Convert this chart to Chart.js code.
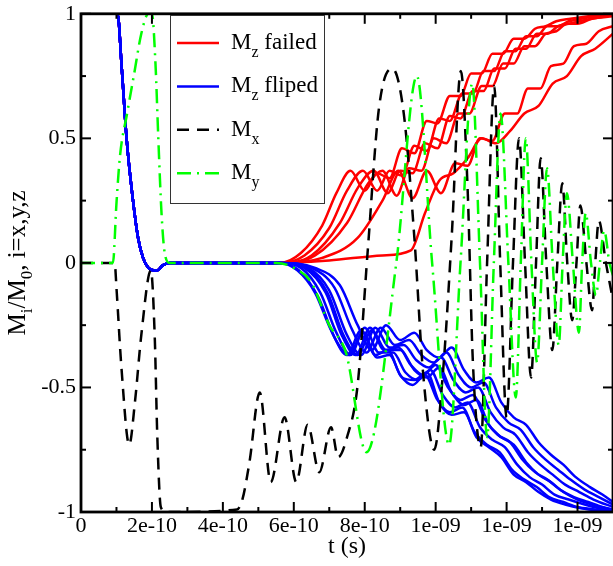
<!DOCTYPE html>
<html><head><meta charset="utf-8">
<script src="https://cdn.jsdelivr.net/npm/chart.js@4/dist/chart.umd.min.js"></script>
<style>html,body{margin:0;padding:0;background:#fff;}canvas{display:block;}</style>
</head><body>
<canvas id="c" width="613" height="566"></canvas>
<script>
// time values are in units of 1e-10 s
const T_UNIT = 1e-10;
const xTickValues = [0, 2, 4, 6, 8, 10, 12, 14];
const yTickValues = [-1, -0.5, 0, 0.5, 1];

// shared initial M_z segment
const mzInitial = [[0,1],[1.03,1],[1.15,0.78],[1.285,0.5],[1.45,0.27],[1.61,0.1],[1.75,0.02],[1.9,-0.02],[2.05,-0.03],[2.15,-0.03],[2.3,-0.01],[2.5,0],[4.5,0]];

const mzFailed1 = [[5.6,0],[6.2,0.04],[6.8,0.15],[7.2,0.28],[7.6,0.37],[8.0,0.29],[8.35,0.36],[8.7,0.34],[9.05,0.46],[9.4,0.44],[9.75,0.57],[10.05,0.56],[10.4,0.67],[10.7,0.67],[11.0,0.76],[11.3,0.76],[11.6,0.84],[11.9,0.84],[12.2,0.9],[12.5,0.9],[12.8,0.94],[13.1,0.95],[13.4,0.97],[13.8,0.98],[14.3,0.99],[15,1.0]];
const mzFailed2 = [[5.6,0],[6.3,0.03],[7.0,0.14],[7.5,0.29],[7.95,0.37],[8.35,0.29],[8.7,0.37],[9.05,0.35],[9.4,0.47],[9.75,0.45],[10.1,0.58],[10.4,0.57],[10.75,0.68],[11.05,0.68],[11.35,0.77],[11.65,0.77],[11.95,0.85],[12.25,0.85],[12.55,0.91],[12.85,0.91],[13.15,0.95],[13.45,0.95],[13.75,0.97],[14.1,0.98],[14.5,0.99],[15,1.0]];
const mzFailed3 = [[5.6,0],[6.5,0.03],[7.3,0.16],[7.8,0.3],[8.25,0.37],[8.65,0.28],[9.0,0.37],[9.35,0.36],[9.7,0.48],[10.05,0.46],[10.4,0.59],[10.7,0.58],[11.05,0.69],[11.35,0.69],[11.65,0.78],[11.95,0.78],[12.25,0.86],[12.55,0.86],[12.85,0.92],[13.15,0.92],[13.45,0.95],[13.75,0.96],[14.05,0.97],[14.4,0.98],[15,0.995]];
const mzFailed4 = [[5.6,0],[6.6,0.03],[7.5,0.16],[8.1,0.32],[8.5,0.37],[8.9,0.27],[9.25,0.38],[9.6,0.37],[9.95,0.5],[10.3,0.48],[10.65,0.6],[10.95,0.6],[11.3,0.71],[11.6,0.71],[11.9,0.8],[12.2,0.8],[12.5,0.87],[12.8,0.87],[13.1,0.92],[13.4,0.93],[13.7,0.96],[14.0,0.96],[14.4,0.98],[15,0.99]];
const mzFailed5 = [[5.6,0],[6.8,0.02],[7.8,0.1],[8.5,0.25],[8.95,0.37],[9.35,0.26],[9.75,0.37],[10.15,0.28],[10.55,0.4],[10.9,0.39],[11.25,0.5],[11.6,0.49],[11.95,0.6],[12.3,0.6],[12.6,0.7],[12.95,0.7],[13.25,0.79],[13.6,0.8],[13.9,0.87],[14.25,0.88],[14.6,0.93],[15,0.95]];
const mzFailed6 = [[5.6,0],[7.0,0.01],[8.5,0.03],[9.3,0.05],[9.7,0.2],[10.1,0.33],[10.5,0.36],[10.9,0.42],[11.3,0.5],[11.7,0.48],[12.1,0.53],[12.5,0.6],[12.9,0.63],[13.3,0.72],[13.7,0.75],[14.1,0.83],[14.5,0.86],[15,0.92]];

const mzFlip1 = [[5.6,0],[6.1,-0.03],[6.6,-0.12],[7.05,-0.27],[7.5,-0.37],[7.9,-0.27],[8.3,-0.37],[8.65,-0.35],[9.0,-0.45],[9.35,-0.49],[9.7,-0.45],[10.05,-0.55],[10.4,-0.6],[10.75,-0.58],[11.1,-0.68],[11.45,-0.73],[11.8,-0.76],[12.15,-0.83],[12.5,-0.87],[12.85,-0.9],[13.2,-0.94],[13.6,-0.96],[14.0,-0.98],[14.5,-0.99],[15,-1.0]];
const mzFlip2 = [[5.6,0],[6.2,-0.02],[6.75,-0.12],[7.2,-0.28],[7.6,-0.37],[8.0,-0.26],[8.4,-0.36],[8.8,-0.36],[9.15,-0.44],[9.5,-0.47],[9.85,-0.43],[10.2,-0.53],[10.55,-0.58],[10.9,-0.56],[11.25,-0.66],[11.6,-0.71],[11.95,-0.74],[12.3,-0.81],[12.65,-0.86],[13.0,-0.89],[13.35,-0.93],[13.75,-0.95],[14.2,-0.97],[14.6,-0.985],[15,-0.995]];
const mzFlip3 = [[5.6,0],[6.3,-0.02],[6.9,-0.12],[7.35,-0.29],[7.75,-0.37],[8.15,-0.26],[8.55,-0.35],[8.95,-0.34],[9.3,-0.41],[9.65,-0.45],[10.0,-0.41],[10.35,-0.5],[10.7,-0.55],[11.05,-0.53],[11.4,-0.63],[11.75,-0.69],[12.1,-0.72],[12.45,-0.79],[12.8,-0.84],[13.15,-0.87],[13.5,-0.91],[13.9,-0.94],[14.3,-0.96],[14.7,-0.98],[15,-0.99]];
const mzFlip4 = [[5.6,0],[6.4,-0.02],[7.0,-0.11],[7.5,-0.29],[7.9,-0.37],[8.3,-0.26],[8.7,-0.34],[9.1,-0.33],[9.45,-0.39],[9.8,-0.42],[10.15,-0.38],[10.5,-0.47],[10.85,-0.52],[11.2,-0.5],[11.55,-0.6],[11.9,-0.66],[12.25,-0.69],[12.6,-0.76],[12.95,-0.81],[13.3,-0.85],[13.65,-0.89],[14.05,-0.92],[14.45,-0.95],[15,-0.98]];
const mzFlip5 = [[5.6,0],[6.5,-0.02],[7.15,-0.1],[7.65,-0.27],[8.05,-0.36],[8.45,-0.26],[8.85,-0.33],[9.25,-0.31],[9.6,-0.37],[9.95,-0.4],[10.3,-0.36],[10.65,-0.45],[11.0,-0.5],[11.35,-0.48],[11.7,-0.58],[12.05,-0.64],[12.4,-0.67],[12.75,-0.74],[13.1,-0.79],[13.45,-0.83],[13.8,-0.87],[14.2,-0.91],[14.6,-0.94],[15,-0.97]];
const mzFlip6 = [[5.6,0],[6.6,-0.02],[7.3,-0.09],[7.8,-0.25],[8.2,-0.35],[8.6,-0.25],[9.0,-0.31],[9.4,-0.28],[9.75,-0.35],[10.1,-0.38],[10.45,-0.34],[10.8,-0.43],[11.15,-0.48],[11.5,-0.46],[11.85,-0.56],[12.2,-0.62],[12.55,-0.65],[12.9,-0.72],[13.25,-0.77],[13.6,-0.81],[13.95,-0.86],[14.35,-0.9],[14.7,-0.93],[15,-0.96]];
const mzFlip7 = [[5.6,0],[6.15,-0.03],[6.7,-0.14],[7.15,-0.3],[7.55,-0.37],[7.95,-0.28],[8.35,-0.38],[8.7,-0.37],[9.05,-0.46],[9.4,-0.47],[9.75,-0.44],[10.1,-0.56],[10.45,-0.61],[10.8,-0.6],[11.15,-0.7],[11.5,-0.74],[11.85,-0.78],[12.2,-0.85],[12.55,-0.88],[12.9,-0.92],[13.25,-0.95],[13.65,-0.97],[14.1,-0.985],[14.6,-0.995],[15,-1.0]];
const mzFlip8 = [[5.6,0],[6.35,-0.02],[6.95,-0.12],[7.4,-0.29],[7.8,-0.37],[8.2,-0.27],[8.6,-0.35],[9.0,-0.35],[9.4,-0.43],[9.75,-0.46],[10.1,-0.42],[10.45,-0.52],[10.8,-0.57],[11.15,-0.55],[11.5,-0.65],[11.85,-0.7],[12.2,-0.73],[12.55,-0.8],[12.9,-0.85],[13.25,-0.88],[13.6,-0.92],[14.0,-0.95],[14.4,-0.97],[14.8,-0.985],[15,-0.99]];

const mx = [[0,0],[0.95,0],[1.0,-0.1],[1.14,-0.42],[1.36,-0.73],[1.52,-0.56],[1.7,-0.29],[1.97,-0.03],[2.08,-0.3],[2.15,-0.69],[2.25,-0.98],[2.4,-1.0],[4.4,-0.99],[4.55,-0.95],[4.75,-0.8],[5.04,-0.52],[5.35,-0.88],[5.74,-0.62],[6.07,-0.88],[6.39,-0.65],[6.72,-0.84],[7.05,-0.66],[7.25,-0.78],[7.5,-0.7],[7.8,-0.49],[8.08,0.04],[8.4,0.62],[8.78,0.78],[9.1,0.6],[9.4,0.1],[9.65,-0.45],[9.96,-0.75],[10.2,-0.45],[10.45,0.1],[10.71,0.77],[10.9,0.3],[11.05,-0.4],[11.27,-0.74],[11.45,0.0],[11.65,0.71],[11.82,0.0],[12.0,-0.62],[12.18,0.0],[12.35,0.5],[12.52,0.0],[12.69,-0.46],[12.83,0],[12.96,0.42],[13.12,0],[13.29,-0.35],[13.43,0],[13.57,0.32],[13.71,0],[13.85,-0.23],[13.97,0],[14.08,0.23],[14.25,0],[14.41,-0.19],[14.5,0],[14.6,0.17],[14.8,0],[14.96,-0.12]];
const my = [[0,0],[0.9,0],[1.0,0.24],[1.1,0.43],[1.3,0.6],[1.5,0.76],[1.7,0.92],[1.9,1.0],[2.0,1.0],[2.1,0.8],[2.18,0.5],[2.27,0.2],[2.36,0.04],[2.5,0],[5.5,0],[6.0,-0.02],[6.5,-0.08],[7.0,-0.25],[7.47,-0.36],[8.05,-0.76],[8.89,0],[9.47,0.75],[9.9,0],[10.38,-0.73],[10.7,0],[11.03,0.72],[11.25,0],[11.45,-0.7],[11.64,0],[11.83,0.6],[12.05,0],[12.26,-0.54],[12.4,0],[12.54,0.5],[12.7,0],[12.86,-0.4],[13.0,0],[13.14,0.38],[13.3,0],[13.47,-0.33],[13.58,0],[13.7,0.28],[13.87,0],[14.04,-0.28],[14.13,0],[14.23,0.2],[14.38,0],[14.52,-0.13],[14.63,0],[14.75,0.13],[14.9,0],[15,-0.05]];

const legendEntries = [
  {main:'M', sub:'z', rest:' failed', color:'#ff0000', dash:[]},
  {main:'M', sub:'z', rest:' fliped', color:'#0000ff', dash:[]},
  {main:'M', sub:'x', rest:'', color:'#000000', dash:[12,8]},
  {main:'M', sub:'y', rest:'', color:'#00ff00', dash:[14,6,2,6]}
];

const toXY = arr => arr.map(p => ({x:p[0], y:p[1]}));
const LW = 2.5;
const datasets = [];
datasets.push({data:toXY(my), borderColor:'#00ff00', borderDash:[14,6,2,6], borderWidth:LW});
datasets.push({data:toXY(mx), borderColor:'#000000', borderDash:[12,8], borderWidth:LW});
[mzFlip1,mzFlip2,mzFlip3,mzFlip4,mzFlip5,mzFlip6,mzFlip7,mzFlip8].forEach(c => datasets.push({data:toXY(mzInitial.concat(c)), borderColor:'#0000ff', borderWidth:LW}));
[mzFailed1,mzFailed2,mzFailed3,mzFailed4,mzFailed5,mzFailed6].forEach(c => datasets.push({data:toXY(mzInitial.concat(c)), borderColor:'#ff0000', borderWidth:LW}));

function fmtX(v){
  if (Math.abs(v) < 1e-9) return '0';
  const val = v * T_UNIT;
  let e = Math.floor(Math.log10(Math.abs(val)) + 1e-9);
  let m = Math.round(val / Math.pow(10, e));
  if (m === 10) { m = 1; e++; }
  return m + 'e' + (e < 0 ? '-' : '+') + String(Math.abs(e)).padStart(2, '0');
}

const SERIF = '"Liberation Serif", "Times New Roman", serif';

const decor = {
  id:'decor',
  afterDraw(chart){
    const {ctx, chartArea:a, scales:{x, y}} = chart;
    ctx.save();
    ctx.strokeStyle = '#000';
    ctx.setLineDash([]);
    ctx.lineWidth = 2;
    const line = (x1,y1,x2,y2) => {ctx.beginPath(); ctx.moveTo(x1,y1); ctx.lineTo(x2,y2); ctx.stroke();};
    for (let v = 0; v <= 15; v += 1) {
      const px = x.getPixelForValue(v);
      const len = (v % 2 === 0) ? 10 : 5;
      line(px, a.bottom, px, a.bottom - len);
      line(px, a.top, px, a.top + len);
    }
    for (let v = -1; v <= 1.0001; v += 0.25) {
      const py = y.getPixelForValue(v);
      const len = (Math.abs(v*2 - Math.round(v*2)) < 1e-6) ? 10 : 5;
      line(a.left, py, a.left + len, py);
      line(a.right, py, a.right - len, py);
    }
    ctx.lineWidth = 2.8;
    ctx.strokeRect(a.left, a.top, a.right - a.left, a.bottom - a.top);

    // legend
    const bx = 170, by = 15, bw = 154, bh = 188;
    ctx.fillStyle = '#fff';
    ctx.fillRect(bx, by, bw, bh);
    ctx.lineWidth = 1;
    ctx.strokeStyle = '#333';
    ctx.strokeRect(bx + 0.5, by + 0.5, bw, bh);
    legendEntries.forEach((e, i) => {
      const ly = 43 + i * 43.4;
      ctx.strokeStyle = e.color;
      ctx.lineWidth = LW;
      ctx.setLineDash(e.dash);
      line(177, ly, 219, ly);
      ctx.setLineDash([]);
      ctx.fillStyle = '#000';
      ctx.textBaseline = 'alphabetic';
      ctx.textAlign = 'left';
      let tx = 231;
      ctx.font = '23px ' + SERIF;
      ctx.fillText(e.main, tx, ly + 6);
      tx += ctx.measureText(e.main).width;
      ctx.font = '16px ' + SERIF;
      ctx.fillText(e.sub, tx, ly + 14);
      tx += ctx.measureText(e.sub).width;
      ctx.font = '23px ' + SERIF;
      ctx.fillText(e.rest, tx, ly + 6);
    });

    // x title
    ctx.fillStyle = '#000';
    ctx.font = '24px ' + SERIF;
    ctx.textAlign = 'center';
    ctx.textBaseline = 'alphabetic';
    ctx.fillText('t (s)', (a.left + a.right) / 2, 553);

    // y title with subscripts
    const parts = [['M',0],['i',1],['/M',0],['0',1],[', i=x,y,z',0]];
    ctx.save();
    ctx.translate(25, (a.top + a.bottom) / 2);
    ctx.rotate(-Math.PI / 2);
    ctx.textAlign = 'left';
    let total = 0;
    parts.forEach(p => { ctx.font = (p[1] ? '17px ' : '25px ') + SERIF; total += ctx.measureText(p[0]).width; });
    let cx = -total / 2;
    parts.forEach(p => {
      ctx.font = (p[1] ? '17px ' : '25px ') + SERIF;
      ctx.fillText(p[0], cx, p[1] ? 7 : 0);
      cx += ctx.measureText(p[0]).width;
    });
    ctx.restore();
    ctx.restore();
  }
};

new Chart(document.getElementById('c'), {
  type:'line',
  data:{datasets},
  options:{
    responsive:false,
    animation:false,
    devicePixelRatio:1,
    layout:{padding:{left:0, right:0, top:9, bottom:0}},
    elements:{point:{radius:0}, line:{cubicInterpolationMode:'monotone', fill:false}},
    plugins:{legend:{display:false}, tooltip:{enabled:false}},
    scales:{
      x:{type:'linear', min:0, max:15,
         grid:{display:false, drawTicks:false}, border:{display:false},
         afterBuildTicks: s => { s.ticks = xTickValues.map(v => ({value:v})); },
         afterFit: s => { s.height = 54; },
         ticks:{padding:1, color:'#000', font:{family:SERIF, size:22, lineHeight:1.2}, maxRotation:0, autoSkip:false, callback: v => fmtX(v)}},
      y:{type:'linear', min:-1, max:1,
         grid:{display:false, drawTicks:false}, border:{display:false},
         afterBuildTicks: s => { s.ticks = yTickValues.map(v => ({value:v})); },
         afterFit: s => { s.width = 81; },
         ticks:{padding:5, color:'#000', font:{family:SERIF, size:22, lineHeight:0.8}, callback: v => String(v)}}
    }
  },
  plugins:[decor]
});
</script></body></html>
